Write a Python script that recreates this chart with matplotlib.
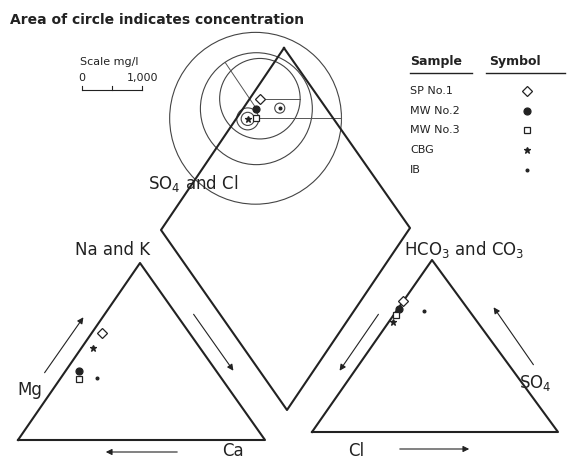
import numpy as np
import matplotlib.pyplot as plt

# samples and their ionic composition (percent of meq/l)
samples = ['SP No.1', 'MW No.2', 'MW No.3', 'CBG', 'IB']
markers = ['D', 'o', 's', '*', '.']

# cation triangle
na_k = [60.5, 39.0, 34.5, 52.0, 35.0]
mg = [35.4, 55.6, 57.8, 43.3, 50.3]
ca = [4.1, 5.4, 7.7, 4.7, 14.7]

# anion triangle
hco3_co3 = [76.2, 71.5, 68.0, 64.0, 70.3]
cl = [23.8, 28.0, 31.0, 34.3, 18.5]
so4 = [0.0, 0.5, 1.0, 1.7, 11.2]

# dissolved solids, mg/l (area of circle)
tds = [450, 870, 2050, 12, 7]

# ---- layout of the diagram (canvas units = pixels) ----
W, H = 569, 459
left_tri = np.array([[18, 440], [265, 440], [140, 263]])   # BL, BR, apex
right_tri = np.array([[312, 432], [558, 432], [432, 260]])
d_top = np.array([284, 48])
d_left = np.array([161, 230])
d_right = np.array([410, 228])
d_bot = d_left + d_right - d_top
scale_len = 60.0  # length of the 1,000 mg/l scale bar

ink = '#222222'


def tri_xy(tri, bl, br, apex):
    w = np.array([bl, br, apex]) / 100.0
    return w @ tri


def diamond_xy(b, c):
    return d_top + c / 100.0 * (d_left - d_top) + b / 100.0 * (d_right - d_top)


def marker_style(m):
    filled = m in ('o', '*', '.')
    return dict(marker=m, ms=4 if m == '.' else 5, mfc=ink if filled else 'white',
                mec=ink, mew=0.9, ls='none')


fig = plt.figure(figsize=(W / 100, H / 100), dpi=100)
ax = fig.add_axes([0, 0, 1, 1])
ax.set_xlim(0, W)
ax.set_ylim(H, 0)
ax.axis('off')

# frames
for poly in (left_tri, right_tri, np.array([d_top, d_left, d_bot, d_right])):
    p = np.vstack([poly, poly[:1]])
    ax.plot(p[:, 0], p[:, 1], color=ink, lw=1.5, zorder=3)

# concentration circles, with a radius drawn on some of them
ray_angle = [0, 124, 0, None, None]
for i in range(len(samples)):
    cx, cy = diamond_xy(ca[i], cl[i])
    r = scale_len * np.sqrt(tds[i] / 1000.0)
    ax.add_patch(plt.Circle((cx, cy), r, fill=False, color='#444444', lw=0.8, zorder=2))
    if ray_angle[i] is not None:
        a = np.radians(ray_angle[i])
        ex, ey = cx + r * np.cos(a), cy - r * np.sin(a)
        ax.plot([cx, ex], [cy, ey], color='#555555', lw=0.7, zorder=2)
        if i == 2:
            ax.plot([ex, ex], [ey - 4, ey + 4], color='#555555', lw=0.7, zorder=2)
ax.add_patch(plt.Circle(diamond_xy(ca[3], cl[3]), 11, fill=False, color='#444444', lw=0.8, zorder=2))

# sample points
for i in range(len(samples)):
    pts = [tri_xy(left_tri, mg[i], ca[i], na_k[i]),
           tri_xy(right_tri, cl[i], so4[i], hco3_co3[i]),
           diamond_xy(ca[i], cl[i])]
    for x, y in pts:
        ax.plot(x, y, zorder=4, **marker_style(markers[i]))

# direction arrows
arrows = [((43, 375), (85, 315)), ((180, 452), (103, 452)), ((192, 312), (235, 373)),
          ((380, 312), (338, 373)), ((535, 367), (492, 305)), ((397, 449), (472, 449))]
for s, e in arrows:
    ax.annotate('', xy=e, xytext=s,
                arrowprops=dict(arrowstyle='-|>', color=ink, lw=0.8, mutation_scale=9))

# labels
fs = 12
ax.text(10, 20, 'Area of circle indicates concentration', fontsize=10,
        fontweight='bold', color=ink, va='center')
ax.text(148, 183, r'SO$_4$ and Cl', fontsize=fs, color=ink, va='center')
ax.text(75, 250, 'Na and K', fontsize=fs, color=ink, va='center')
ax.text(404, 250, r'HCO$_3$ and CO$_3$', fontsize=fs, color=ink, va='center')
ax.text(17, 390, 'Mg', fontsize=fs, color=ink, va='center')
ax.text(222, 451, 'Ca', fontsize=fs, color=ink, va='center')
ax.text(348, 451, 'Cl', fontsize=fs, color=ink, va='center')
ax.text(519, 383, r'SO$_4$', fontsize=fs, color=ink, va='center')

# scale bar
ax.text(80, 62, 'Scale mg/l', fontsize=8, color=ink, va='center')
ax.text(82, 78, '0', fontsize=8, color=ink, va='center', ha='center')
ax.text(158, 78, '1,000', fontsize=8, color=ink, va='center', ha='right')
x0 = 82
ax.plot([x0, x0 + scale_len], [90, 90], color=ink, lw=0.8)
for t in (0, 0.5, 1):
    ax.plot([x0 + t * scale_len] * 2, [90, 86], color=ink, lw=0.8)

# legend
ax.text(410, 62, 'Sample', fontsize=9, fontweight='bold', color=ink, va='center')
ax.text(489, 62, 'Symbol', fontsize=9, fontweight='bold', color=ink, va='center')
ax.plot([410, 472], [73, 73], color=ink, lw=1)
ax.plot([486, 565], [73, 73], color=ink, lw=1)
row_y = [91, 111, 130, 150, 170]
for i, name in enumerate(samples):
    ax.text(410, row_y[i], name, fontsize=8, color=ink, va='center')
    ax.plot(527, row_y[i], **marker_style(markers[i]))

fig.savefig('out.png', dpi=100)
